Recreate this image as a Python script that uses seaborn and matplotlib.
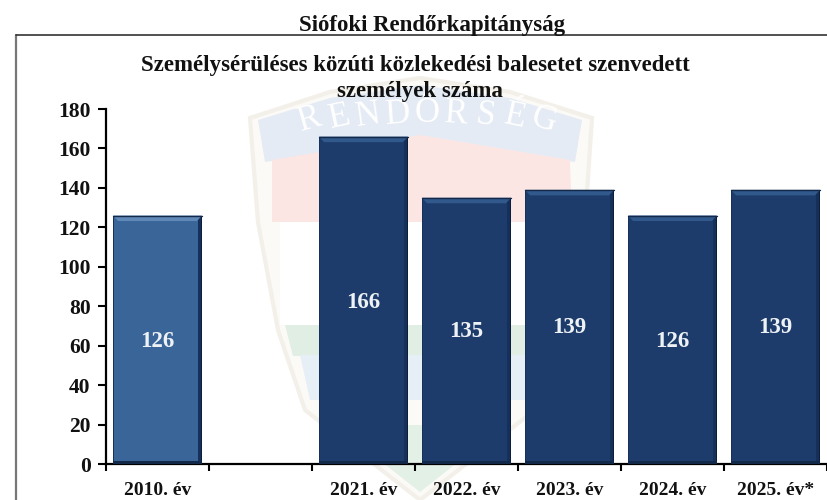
import numpy as np
import pandas as pd
import seaborn as sns
import matplotlib.pyplot as plt
from matplotlib.patches import Rectangle, Polygon

years = ['2010. év', ' ', '2021. év', '2022. év', '2023. év', '2024. év', '2025. év*']
values = [126, np.nan, 166, 135, 139, 126, 139]
bar_labels = ['126', '', '166', '135', '139', '126', '139']
bar_colors = ['#3a6599', '#1d3c6c', '#1d3c6c', '#1d3c6c', '#1d3c6c', '#1d3c6c', '#1d3c6c']
label_pos = [62, 0, 82, 67, 69, 62, 69]
y_ticks = [0, 20, 40, 60, 80, 100, 120, 140, 160, 180]

W, H = 827, 500

sns.set_theme(style='white')
plt.rcParams['font.family'] = ['Liberation Serif', 'DejaVu Serif']

df = pd.DataFrame({'year': years, 'value': values})

fig = plt.figure(figsize=(W / 100, H / 100), dpi=100, facecolor='white')

# frame and faded badge behind the chart, all in pixels
bg = fig.add_axes([0, 0, 1, 1], zorder=0)
bg.set_xlim(0, W)
bg.set_ylim(H, 0)
bg.axis('off')
outline = [(250, 118), (330, 92), (420, 78), (510, 92), (592, 118), (585, 222), (565, 330),
           (535, 410), (420, 500), (305, 410), (278, 330), (258, 222)]
bg.add_patch(Polygon(outline, closed=True, fc='#fbfaf6', ec='#f3f0e9', lw=3))
bg.add_patch(Polygon([(258, 120), (330, 98), (420, 85), (510, 98), (582, 120), (575, 162), (420, 137), (265, 162)],
                     closed=True, fc='#e4ebf4', ec='none'))
bg.add_patch(Polygon([(272, 160), (420, 135), (570, 160), (572, 222), (272, 222)], closed=True, fc='#fce6e4', ec='none'))
bg.add_patch(Rectangle((280, 222), 282, 103, fc='white', ec='none'))
bg.add_patch(Polygon([(285, 325), (556, 325), (548, 356), (293, 356)], closed=True, fc='#e0eee4', ec='none'))
bg.add_patch(Polygon([(300, 355), (545, 355), (532, 400), (310, 400)], closed=True, fc='#e6eef6', ec='none'))
bg.add_patch(Polygon([(335, 425), (505, 425), (420, 492)], closed=True, fc='#e3f0e6', ec='none'))
for i, ch in enumerate('RENDŐRSÉG'):
    # letters follow the arc of the badge banner
    t = (i - 4) / 4
    bg.text(427 + 117 * t, 114 + 6 * t * t, ch, fontsize=25, color='white', ha='center', va='center',
            rotation=-16 * t)
bg.plot([16, 16], [H, 35], color='#777777', lw=1.6)
bg.plot([16, W], [35, 35], color='#333333', lw=1.2)

ax = fig.add_axes([106 / W, 1 - 464 / H, (W - 106) / W, 355 / H], zorder=1)
ax.patch.set_alpha(0)
sns.barplot(data=df, x='year', y='value', hue='year', palette=bar_colors, legend=False,
            width=0.865, saturation=1, ax=ax)

ax.set_xlim(-0.5, 6.5)
ax.set_ylim(0, 180)
ax.set_yticks(y_ticks)
ax.set_xticks(np.arange(-0.5, 6.6, 1), minor=True)
ax.set_xticks(range(len(years)))
ax.set_xticklabels(years)
ax.set_xlabel('')
ax.set_ylabel('')
ax.tick_params(axis='x', which='major', length=0, pad=13, labelsize=14, colors='#111111')
ax.tick_params(axis='x', which='minor', length=5, width=1.5, color='black', bottom=True)
ax.tick_params(axis='y', length=6, width=1.5, color='black', labelsize=15.5, labelcolor='#111111', pad=5, left=True)
for lab in ax.get_xticklabels() + ax.get_yticklabels():
    lab.set_fontweight('bold')
for s in ['top', 'right']:
    ax.spines[s].set_visible(False)
for s in ['left', 'bottom']:
    ax.spines[s].set_linewidth(1.6)
    ax.spines[s].set_color('black')

# bevel on each bar
for i, bar in enumerate(ax.patches):
    x0, w, h = bar.get_x(), bar.get_width(), bar.get_height()
    if not h or np.isnan(h):
        continue
    light = '#6189b8' if x0 < 0 else '#32598c'
    bar.set_edgecolor('none')
    ax.add_patch(Rectangle((x0 + w - 0.035, 0), 0.035, h, fc='#15305a', ec='none', zorder=3))
    ax.add_patch(Rectangle((x0 + w - 0.014, 0), 0.014, h, fc='#0d1e38', ec='none', zorder=3))
    ax.add_patch(Rectangle((x0, 0), 0.012, h, fc='#17325a', ec='none', zorder=3))
    ax.add_patch(Rectangle((x0, 0), w, 1.6, fc='#12294a', ec='none', zorder=3))
    ax.add_patch(Polygon([(x0, h), (x0 + w, h), (x0 + w - 0.05, h - 2.8), (x0 + 0.05, h - 2.8)],
                         closed=True, fc=light, ec='none', zorder=3))
    ax.plot([x0, x0 + w], [h, h], color='#12294a', lw=1, zorder=4)

for i, lab in enumerate(bar_labels):
    if lab:
        ax.text(i, label_pos[i], lab, color='#eef2f5', ha='center', va='center',
                fontsize=16.5, fontweight='bold', zorder=5)

fig.text(432 / W, 1 - 26 / H, 'Siófoki Rendőrkapitányság', ha='center', va='center',
         fontsize=16.5, fontweight='bold', color='#111111')
fig.text(415 / W, 1 - 65 / H, 'Személysérüléses közúti közlekedési balesetet szenvedett',
         ha='center', va='center', fontsize=16.5, fontweight='bold', color='#111111')
fig.text(420 / W, 1 - 92 / H, 'személyek száma', ha='center', va='center',
         fontsize=16.5, fontweight='bold', color='#111111')

fig.savefig('out.png', dpi=100)
